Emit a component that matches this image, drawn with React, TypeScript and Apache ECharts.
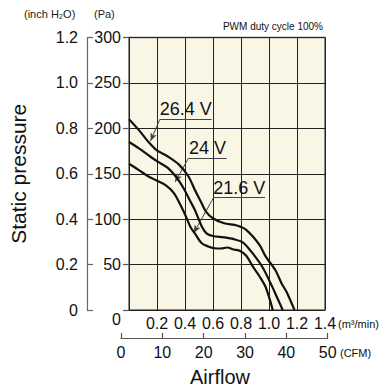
import React, { useEffect, useRef } from "react";
import * as echarts from "echarts";

// m³/min and Pa values
const flow264 = [0, 0.071, 0.139, 0.197, 0.277, 0.357, 0.425, 0.471, 0.517, 0.551, 0.599, 0.679, 0.771, 0.839, 0.931, 0.976, 1.045, 1.091, 1.125, 1.182];
const pres264 = [210, 198, 185, 176, 169, 160, 147, 132, 118, 108, 101, 95.5, 93, 88, 72, 59, 44, 29, 20, 0];
const flow24 = [0, 0.071, 0.151, 0.208, 0.277, 0.345, 0.391, 0.437, 0.471, 0.52, 0.556, 0.599, 0.679, 0.748, 0.817, 0.885, 0.954, 1.022, 1.057, 1.098];
const pres24 = [185, 178, 169, 163, 156.4, 144.8, 133.8, 120, 110, 92, 84, 81.5, 80, 78, 74, 62, 47, 26, 14, 0];
const flow216 = [0, 0.071, 0.139, 0.197, 0.266, 0.322, 0.368, 0.405, 0.439, 0.473, 0.52, 0.565, 0.611, 0.657, 0.702, 0.748, 0.794, 0.839, 0.885, 0.931, 0.976, 1.027];
const pres216 = [161, 154, 147, 142.6, 137, 128.5, 115.6, 103.5, 91.4, 83.7, 73.5, 70, 68, 67.7, 68.8, 66.6, 65, 59.5, 47.7, 37.4, 25.3, 0];

const seriesNames = ["26.4 V", "24 V", "21.6 V"];
// annotation anchors (data space): underline start x, end x, y; arrow tip x, y
const labelUnderline = [
  [0.22, 0.59, 209.8],
  [0.425, 0.698, 167.1],
  [0.604, 0.972, 123.7],
];
const labelTip = [
  [0.154, 186.1],
  [0.329, 141],
  [0.462, 84.8],
];

const pressureTicks = { min: 0, max: 300, interval: 50 };
const inchTicks = { min: 0, max: 1.2, interval: 0.2 };
const flowTicks = { min: 0, max: 1.4, interval: 0.2 };
const cfmTicks = { min: 0, max: 50, interval: 10 };

const NUM = "'Liberation Sans', Arial, sans-serif";
const SANS = "'Liberation Sans', Arial, sans-serif";

export default function App() {
  const ref = useRef<HTMLDivElement>(null);
  useEffect(() => {
    if (!ref.current) return;
    const chart = echarts.init(ref.current, null, { renderer: "svg" });
    const flows = [flow264, flow24, flow216];
    const press = [pres264, pres24, pres216];
    const series = flows.map((f, i) => ({
      type: "line",
      name: seriesNames[i],
      xAxisIndex: 0,
      yAxisIndex: 0,
      data: f.map((x, j) => [x, press[i][j]]),
      smooth: 0.3,
      showSymbol: false,
      symbol: "none",
      lineStyle: { color: "#111", width: 2.2 },
      z: 5,
      markLine: {
        silent: true,
        animation: false,
        symbol: "none",
        lineStyle: { color: "#444", width: 1, type: "solid" },
        emphasis: { disabled: true },
        data: [
          [
            {
              coord: [labelUnderline[i][0], labelUnderline[i][2]],
              label: {
                show: true,
                formatter: seriesNames[i],
                position: "insideMiddleTop",
                distance: 1,
                fontSize: 18,
                fontFamily: SANS,
                color: "#111",
              },
            },
            { coord: [labelUnderline[i][1], labelUnderline[i][2]] },
          ],
          [
            {
              coord: [labelUnderline[i][0], labelUnderline[i][2]],
              symbol: "none",
              label: { show: false },
            },
            {
              coord: [labelTip[i][0], labelTip[i][1]],
              symbol: "arrow",
              symbolSize: [5, 8],
            },
          ],
        ],
      },
    }));

    chart.setOption({
      animation: false,
      grid: [
        {
          left: 121,
          top: 37.5,
          width: 204,
          height: 272.5,
          show: true,
          backgroundColor: "#faf6e5",
          borderColor: "#666",
          borderWidth: 1.5,
          z: 0,
        },
        { left: 121, top: 330, width: 206.7, height: 8 },
      ],
      xAxis: [
        {
          type: "value",
          gridIndex: 0,
          ...flowTicks,
          axisLine: { show: false },
          axisTick: { show: false },
          splitLine: { show: true, lineStyle: { color: "#222", width: 1 } },
          axisLabel: {
            margin: 5,
            fontSize: 16,
            fontFamily: NUM,
            color: "#111",
            formatter: (v: number) => (v === 0 ? "" : v.toFixed(1)),
          },
        },
        {
          type: "value",
          gridIndex: 1,
          ...cfmTicks,
          axisLine: { show: true, lineStyle: { color: "#555", width: 1.2 } },
          axisTick: { show: true, inside: true, length: 5, lineStyle: { color: "#555", width: 1.2 } },
          splitLine: { show: false },
          axisLabel: { margin: 6, fontSize: 16, fontFamily: NUM, color: "#111" },
        },
      ],
      yAxis: [
        {
          type: "value",
          gridIndex: 0,
          position: "left",
          ...pressureTicks,
          axisLine: { show: false },
          axisTick: { show: true, length: 6, lineStyle: { color: "#555", width: 1.2 } },
          splitLine: { show: true, lineStyle: { color: "#222", width: 1 } },
          axisLabel: {
            margin: 8,
            fontSize: 16,
            fontFamily: NUM,
            color: "#111",
            formatter: (v: number) => (v === 0 ? "{z|0}" : String(v)),
            rich: { z: { fontSize: 16, fontFamily: NUM, color: "#111", padding: [18, 0, 0, 0] } },
          },
        },
        {
          type: "value",
          gridIndex: 0,
          position: "left",
          offset: 42,
          ...inchTicks,
          axisLine: { show: true, lineStyle: { color: "#666", width: 1.2 } },
          axisTick: { show: true, inside: true, length: 6, lineStyle: { color: "#666", width: 1.2 } },
          splitLine: { show: false },
          axisLabel: {
            margin: 9,
            fontSize: 16,
            fontFamily: NUM,
            color: "#111",
            formatter: (v: number) => (v === 0 ? "0" : v.toFixed(1)),
          },
          name: "Static pressure",
          nameLocation: "middle",
          nameRotate: 90,
          nameGap: 58,
          nameTextStyle: { fontSize: 21, fontFamily: SANS, color: "#111" },
        },
        { type: "value", gridIndex: 1, show: false, min: 0, max: 1 },
      ],
      graphic: [
        {
          type: "text",
          x: 220,
          y: 377,
          style: { text: "Airflow", font: "20px " + SANS, fill: "#111", align: "center", verticalAlign: "middle" },
        },
        {
          type: "text",
          x: 24,
          y: 13.5,
          style: { text: "(inch H₂O)", font: "11px " + SANS, fill: "#222", align: "left", verticalAlign: "middle" },
        },
        {
          type: "text",
          x: 94,
          y: 13.5,
          style: { text: "(Pa)", font: "11px " + SANS, fill: "#222", align: "left", verticalAlign: "middle" },
        },
        {
          type: "text",
          x: 323,
          y: 26.5,
          style: { text: "PWM duty cycle 100%", font: "10px " + SANS, fill: "#111", align: "right", verticalAlign: "middle" },
        },
        {
          type: "text",
          x: 338,
          y: 324,
          style: { text: "(m³/min)", font: "11px " + SANS, fill: "#111", align: "left", verticalAlign: "middle" },
        },
        {
          type: "text",
          x: 340,
          y: 353,
          style: { text: "(CFM)", font: "11px " + SANS, fill: "#111", align: "left", verticalAlign: "middle" },
        },
      ],
      series,
    });
    return () => chart.dispose();
  }, []);
  return (
    <div
      ref={ref}
      style={{ position: "fixed", left: 0, top: 0, width: 387, height: 387, background: "#fff" }}
    />
  );
}
